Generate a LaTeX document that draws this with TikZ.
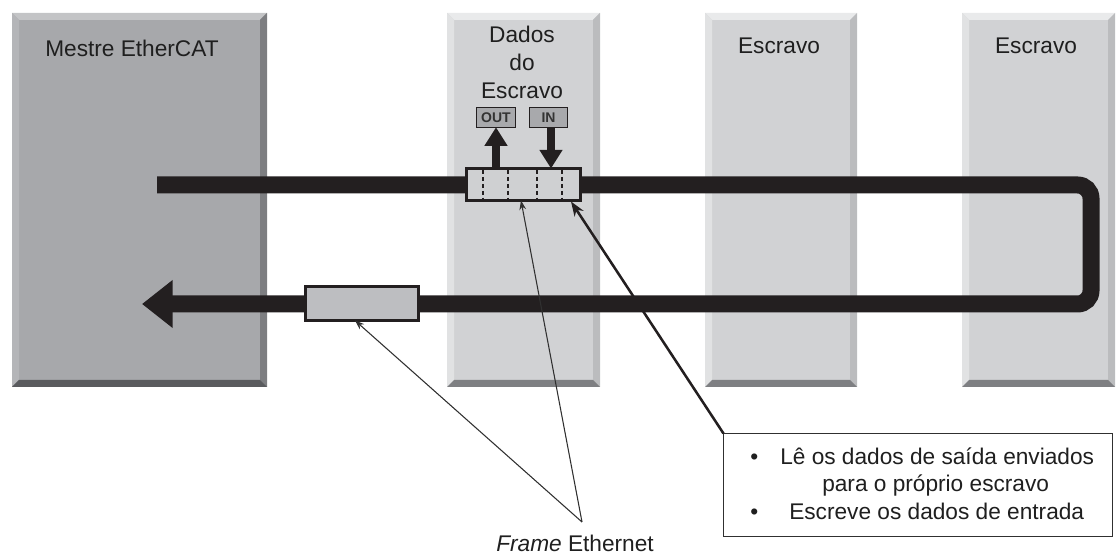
\documentclass[tikz,border=0pt]{standalone}
\usepackage{fontspec}
\setmainfont{Liberation Sans}
\usetikzlibrary{arrows.meta,calc}

\definecolor{mmain}{HTML}{A7A8AB}
\definecolor{mtop}{HTML}{C3C4C6}
\definecolor{mleft}{HTML}{B4B5B8}
\definecolor{mright}{HTML}{7D7E81}
\definecolor{mbottom}{HTML}{5A5B5E}
\definecolor{smain}{HTML}{D1D2D4}
\definecolor{stop}{HTML}{E9EAEB}
\definecolor{sleft}{HTML}{E1E2E3}
\definecolor{sright}{HTML}{BBBCBE}
\definecolor{sbottom}{HTML}{7E7F82}
\definecolor{ink}{HTML}{231F20}
\definecolor{frameA}{HTML}{CFD0D2}
\definecolor{frameB}{HTML}{BDBEC1}
\definecolor{iobox}{HTML}{A8A9AC}
\definecolor{pen}{HTML}{303030}

% bevelled edges of a panel node: #1 node, #2..#5 top/left/right/bottom colours
\newcommand\bevelon[5]{%
  \fill[#2] (#1.north west) -- (#1.north east) -- ([shift={(-7,7)}]#1.north east) -- ([shift={(7,7)}]#1.north west) -- cycle;
  \fill[#3] (#1.north west) -- ([shift={(7,7)}]#1.north west) -- ([shift={(7,-7)}]#1.south west) -- (#1.south west) -- cycle;
  \fill[#4] (#1.north east) -- (#1.south east) -- ([shift={(-7,-7)}]#1.south east) -- ([shift={(-7,7)}]#1.north east) -- cycle;
  \fill[#5] (#1.south west) -- (#1.south east) -- ([shift={(-7,-7)}]#1.south east) -- ([shift={(7,-7)}]#1.south west) -- cycle;
}

\tikzset{
  panel/.style={inner sep=0pt, outer sep=0pt, minimum height={374*0.75pt}},
  title/.style={inner sep=0pt, font=\fontsize{17}{20}\selectfont, text=black!88},
  bus/.style={draw=ink, line width=12.75pt},
  framebox/.style={draw=ink, line width=2.25pt, inner sep=0pt, outer sep=0pt},
  divider/.style={draw=ink, line width=0.9pt, dash pattern=on 3pt off 2.2pt},
  ioport/.style={draw=ink, fill=iobox, line width=1.1pt, inner sep=0pt, outer sep=0pt,
    minimum height={19.5*0.75pt}, font=\fontsize{10.5}{12}\selectfont\bfseries, text=black!80},
  ioarrow/.style={draw=ink, line width=6pt, -{Triangle[length=14pt,width=16.5pt]}},
  pointer/.style={draw=pen, line width=0.8pt, -{Stealth[length=7pt,width=5pt]}},
  calloutarrow/.style={draw=ink, line width=1.9pt, -{Stealth[length=11pt,width=8pt]}},
  note/.style={draw=pen, line width=1.3pt, inner sep=0pt, outer sep=0pt,
    minimum width={389*0.75pt}, minimum height={103*0.75pt}},
  notetext/.style={inner sep=0pt, anchor=base west, font=\fontsize{17}{20}\selectfont, text=black!88},
}

\begin{document}
\begin{tikzpicture}[x=0.75pt, y=-0.75pt]
\useasboundingbox (0,0) rectangle (1118,555);

% panels: master and three slaves
\node[panel, fill=mmain, minimum width={255*0.75pt}] (mestre) at (139.5,200) {};
\bevelon{mestre}{mtop}{mleft}{mright}{mbottom}
\node[panel, fill=smain, minimum width={153*0.75pt}] (escA) at (523.5,200) {};
\bevelon{escA}{stop}{sleft}{sright}{sbottom}
\node[panel, fill=smain, minimum width={152*0.75pt}] (escB) at (781,200) {};
\bevelon{escB}{stop}{sleft}{sright}{sbottom}
\node[panel, fill=smain, minimum width={153*0.75pt}] (escC) at (1038.5,200) {};
\bevelon{escC}{stop}{sleft}{sright}{sbottom}

% panel titles
\node[title, anchor=base west] (tmestre) at (45,57) {Mestre EtherCAT};
\node[title, anchor=base] (tdados) at (522,43) {Dados};
\node[title, anchor=base] (tdo) at (522,71) {do};
\node[title, anchor=base] (tesc) at (522,99) {Escravo};
\node[title, anchor=base] (tescB) at (779,54) {Escravo};
\node[title, anchor=base] (tescC) at (1036,54) {Escravo};

% ring bus running through the slaves and back to the master
\coordinate (busin) at (157,185);
\coordinate (busout) at (142,304);
\draw[bus, rounded corners=10pt, -{Triangle[length=23pt,width=34.5pt]}]
  (busin) -- (1091,185) -- (1091,304) -- (busout);

% frames travelling on the bus
\node[framebox, fill=frameA, minimum width={114*0.75pt}, minimum height={32*0.75pt}] (fr1) at (523.5,184.5) {};
\foreach \dx in {-40.5,-15.5,13.5,38.5}
  \draw[divider] ([shift={(\dx,1.5)}]fr1.north) -- ([shift={(\dx,-1.5)}]fr1.south);
\node[framebox, fill=frameB, minimum width={113*0.75pt}, minimum height={34*0.75pt}] (fr2) at (362,303.5) {};

% process data ports
\node[ioport, minimum width={38.5*0.75pt}] (outb) at (496,117.5) {OUT};
\node[ioport, minimum width={37.5*0.75pt}] (inb) at (548.5,117.5) {IN};
\draw[ioarrow] (fr1.north -| outb.south) -- (outb.south);
\draw[ioarrow] ([shift={(2.5,0)}]inb.south) -- ([shift={(2.5,0)}]fr1.north -| inb.south);

% frame label with its two pointers
\node[title, anchor=base] (flabel) at (575,552) {\textit{Frame} Ethernet};
\coordinate (fe) at (582,522);
\draw[pointer] (fe) -- ([shift={(-7,0)}]fr2.south);
\draw[pointer] (fe) -- ([shift={(-2.5,0)}]fr1.south);

% explanatory note
\node[note, fill=white] (note) at (918,485) {};
\draw[calloutarrow] (note.north west) -- ([shift={(47.5,1)}]fr1.south);
\node[notetext] (b1) at (750,465) {•};
\node[notetext] (l1) at (780,465) {Lê os dados de saída enviados};
\node[notetext] (l2) at (822,492) {para o próprio escravo};
\node[notetext] (b2) at (750,520) {•};
\node[notetext] (l3) at (789,520) {Escreve os dados de entrada};
\end{tikzpicture}
\end{document}
